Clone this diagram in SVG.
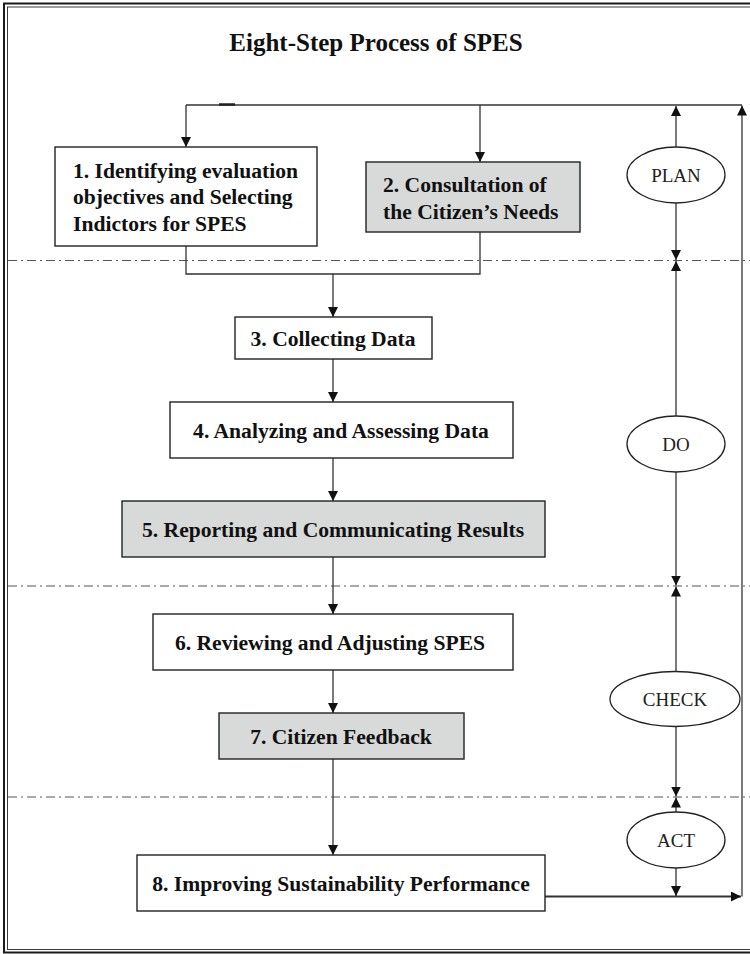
<svg xmlns="http://www.w3.org/2000/svg" width="750" height="954" viewBox="0 0 750 954">
  <defs>
    <marker id="arrow" viewBox="0 0 10 10" refX="10" refY="5" markerWidth="10" markerHeight="10" markerUnits="userSpaceOnUse" orient="auto">
      <path d="M0,0 L10,5 L0,10 Z" fill="#111"/>
    </marker>
    <style>
      .frame-outer { fill: none; stroke: #1a1a1a; stroke-width: 2; }
      .frame-inner { fill: none; stroke: #3a3a3a; stroke-width: 1; }
      .box { fill: #ffffff; stroke: #222; stroke-width: 1.4; }
      .box.shaded { fill: #d8d9d9; }
      .step { font-family: "Liberation Serif", "Times New Roman", serif; font-weight: bold; font-size: 21.6px; fill: #111; }
      .title { font-family: "Liberation Serif", "Times New Roman", serif; font-weight: bold; font-size: 25px; fill: #111; }
      .phase { fill: #ffffff; stroke: #222; stroke-width: 1.3; }
      .phase-label { font-family: "Liberation Serif", "Times New Roman", serif; font-size: 19px; fill: #222; }
      .link { fill: none; stroke: #333; stroke-width: 1.3; }
      .link.heavy { stroke-width: 2; }
      .divider { fill: none; stroke: #555; stroke-width: 1; stroke-dasharray: 9 4 2 4; }
    </style>
  </defs>

  <rect width="750" height="954" fill="#ffffff"/>

  <!-- double frame, open past the right edge -->
  <rect class="frame-outer" x="4" y="3.5" width="760" height="949"/>
  <rect class="frame-inner" x="7.5" y="7" width="760" height="942.5"/>

  <text class="title" x="376" y="51" text-anchor="middle">Eight-Step Process of SPES</text>

  <!-- phase separators -->
  <g id="dividers">
    <line class="divider" x1="8" y1="260.5" x2="750" y2="260.5"/>
    <line class="divider" x1="8" y1="586" x2="750" y2="586"/>
    <line class="divider" x1="8" y1="797" x2="750" y2="797"/>
  </g>

  <g id="connectors">
    <!-- feedback loop over the top -->
    <line class="link heavy" x1="545" y1="896.5" x2="741" y2="896.5" marker-end="url(#arrow)"/>
    <line class="link" x1="742" y1="896.5" x2="742" y2="105.5" marker-end="url(#arrow)"/>
    <line class="link" x1="742" y1="105" x2="186" y2="105"/>
    <line x1="219" y1="104.5" x2="235" y2="104.5" stroke="#222" stroke-width="2.5"/>
    <line class="link" x1="186" y1="105" x2="186" y2="147" marker-end="url(#arrow)"/>
    <line class="link" x1="480" y1="105" x2="480" y2="162" marker-end="url(#arrow)"/>

    <!-- steps 1 and 2 merge into step 3 -->
    <polyline class="link" points="186,246 186,274 480,274 480,232"/>
    <line class="link" x1="333" y1="274" x2="333" y2="317" marker-end="url(#arrow)"/>

    <!-- main chain -->
    <line class="link" x1="333" y1="359" x2="333" y2="402" marker-end="url(#arrow)"/>
    <line class="link" x1="333" y1="458" x2="333" y2="501" marker-end="url(#arrow)"/>
    <line class="link" x1="333" y1="557" x2="333" y2="614" marker-end="url(#arrow)"/>
    <line class="link" x1="333" y1="670" x2="333" y2="713" marker-end="url(#arrow)"/>
    <line class="link" x1="333" y1="759" x2="333" y2="855" marker-end="url(#arrow)"/>

    <!-- PDCA column -->
    <line class="link" x1="676" y1="147" x2="676" y2="106" marker-end="url(#arrow)"/>
    <line class="link" x1="676" y1="203" x2="676" y2="260" marker-end="url(#arrow)"/>
    <line class="link" x1="676" y1="416" x2="676" y2="261" marker-end="url(#arrow)"/>
    <line class="link" x1="676" y1="472" x2="676" y2="585.5" marker-end="url(#arrow)"/>
    <line class="link" x1="676" y1="671.5" x2="676" y2="586.5" marker-end="url(#arrow)"/>
    <line class="link" x1="676" y1="726.5" x2="676" y2="796.5" marker-end="url(#arrow)"/>
    <line class="link" x1="676" y1="812" x2="676" y2="797.5" marker-end="url(#arrow)"/>
    <line class="link" x1="676" y1="868" x2="676" y2="896" marker-end="url(#arrow)"/>
  </g>

  <g id="step1">
    <rect class="box" x="55" y="147" width="262" height="99"/>
    <text class="step" x="73" y="177.5">1. Identifying evaluation</text>
    <text class="step" x="73" y="204">objectives and Selecting</text>
    <text class="step" x="73" y="230.5">Indictors for SPES</text>
  </g>

  <g id="step2">
    <rect class="box shaded" x="366" y="162" width="214" height="70"/>
    <text class="step" x="383" y="192">2. Consultation of</text>
    <text class="step" x="383" y="218.5">the Citizen’s Needs</text>
  </g>

  <g id="step3">
    <rect class="box" x="235" y="317" width="197" height="42"/>
    <text class="step" x="333" y="345.5" text-anchor="middle">3. Collecting Data</text>
  </g>

  <g id="step4">
    <rect class="box" x="170" y="402" width="343" height="56"/>
    <text class="step" x="341" y="437.5" text-anchor="middle">4. Analyzing and Assessing Data</text>
  </g>

  <g id="step5">
    <rect class="box shaded" x="122" y="501" width="423" height="56"/>
    <text class="step" x="333" y="536.5" text-anchor="middle">5. Reporting and Communicating Results</text>
  </g>

  <g id="step6">
    <rect class="box" x="153" y="614" width="360" height="56"/>
    <text class="step" x="330" y="649.5" text-anchor="middle">6. Reviewing and Adjusting SPES</text>
  </g>

  <g id="step7">
    <rect class="box shaded" x="219" y="713" width="245" height="46"/>
    <text class="step" x="341" y="743.5" text-anchor="middle">7. Citizen Feedback</text>
  </g>

  <g id="step8">
    <rect class="box" x="137" y="855" width="408" height="56"/>
    <text class="step" x="341" y="890.5" text-anchor="middle">8. Improving Sustainability Performance</text>
  </g>

  <g id="plan">
    <ellipse class="phase" cx="676" cy="175" rx="49" ry="28"/>
    <text class="phase-label" x="676" y="181.5" text-anchor="middle">PLAN</text>
  </g>

  <g id="do">
    <ellipse class="phase" cx="676" cy="444" rx="49" ry="28"/>
    <text class="phase-label" x="676" y="450.5" text-anchor="middle">DO</text>
  </g>

  <g id="check">
    <ellipse class="phase" cx="675" cy="699" rx="65" ry="27.5"/>
    <text class="phase-label" x="675" y="705.5" text-anchor="middle">CHECK</text>
  </g>

  <g id="act">
    <ellipse class="phase" cx="676" cy="840" rx="49" ry="28"/>
    <text class="phase-label" x="676" y="846.5" text-anchor="middle">ACT</text>
  </g>
</svg>
